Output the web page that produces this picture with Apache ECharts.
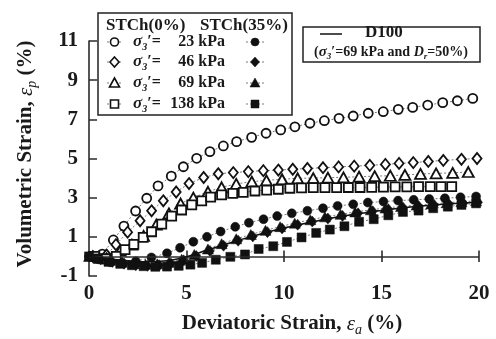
<!DOCTYPE html>
<html>
<head>
<meta charset="utf-8">
<script src="https://cdn.jsdelivr.net/npm/echarts@6/dist/echarts.min.js"></script>
<style>
  html, body { margin: 0; padding: 0; background: #fff; }
  #chart { width: 496px; height: 339px; }
</style>
</head>
<body>
<div id="chart"></div>
<script>
// Each pair is [deviatoric strain εa (%), volumetric strain εp (%)]

// STCh(0%) tests, open symbols
const stch0_23 = [[0.1,0.0],[0.68,0.12],[1.25,0.84],[1.79,1.55],[2.39,2.32],[2.96,2.97],[3.54,3.6],[4.22,4.1],[4.84,4.58],[5.52,5.01],[6.2,5.35],[6.89,5.64],[7.57,5.86],[8.34,6.08],[9.08,6.29],[9.83,6.46],[10.56,6.62],[11.33,6.8],[12.07,6.93],[12.82,7.05],[13.55,7.17],[14.32,7.31],[15.09,7.39],[15.86,7.51],[16.6,7.61],[17.37,7.73],[18.14,7.85],[18.89,7.95],[19.68,8.07]];
const stch0_46 = [[0.2,0.0],[0.9,0.07],[1.38,0.6],[1.98,1.24],[2.62,1.82],[3.21,2.33],[3.81,2.84],[4.47,3.29],[5.13,3.72],[5.88,4.03],[6.63,4.22],[7.4,4.28],[8.17,4.33],[8.94,4.38],[9.71,4.41],[10.45,4.45],[11.2,4.49],[12.0,4.53],[12.8,4.57],[13.6,4.61],[14.4,4.65],[15.2,4.7],[15.9,4.75],[16.63,4.79],[17.4,4.85],[18.17,4.9],[19.1,4.96],[19.9,5.0]];
const stch0_69 = [[0.9,-0.1],[1.6,0.3],[2.2,0.6],[2.8,1.05],[3.45,1.62],[4.1,2.2],[4.7,2.7],[5.35,3.0],[6.1,3.3],[6.8,3.53],[7.55,3.7],[8.35,3.82],[9.1,3.88],[9.9,3.94],[10.7,3.99],[11.5,4.0],[12.25,4.02],[13.05,4.04],[13.85,4.07],[14.65,4.1],[15.45,4.12],[16.2,4.16],[17.0,4.21],[17.8,4.24],[18.65,4.27],[19.45,4.31]];
const stch0_138 = [[0.3,0.0],[0.85,-0.12],[1.4,0.0],[1.85,0.35],[2.3,0.62],[2.78,0.97],[3.21,1.26],[3.73,1.65],[4.24,2.06],[4.75,2.37],[5.27,2.63],[5.78,2.84],[6.24,3.03],[6.8,3.14],[7.37,3.22],[7.91,3.27],[8.51,3.34],[9.11,3.39],[9.71,3.43],[10.3,3.48],[10.9,3.5],[11.5,3.51],[12.1,3.51],[12.7,3.51],[13.3,3.52],[13.9,3.52],[14.5,3.53],[15.1,3.54],[15.7,3.55],[16.3,3.55],[16.9,3.56],[17.5,3.56],[18.05,3.56],[18.6,3.56]];

// STCh(35%) tests, filled symbols
const stch35_23 = [[0.0,0.0],[0.5,-0.15],[1.1,-0.3],[1.7,-0.33],[2.4,-0.25],[3.2,-0.05],[4.0,0.16],[4.67,0.44],[5.35,0.75],[6.05,1.0],[6.75,1.27],[7.5,1.51],[8.2,1.72],[8.95,1.9],[9.65,2.06],[10.4,2.2],[11.2,2.33],[12.0,2.46],[12.75,2.58],[13.55,2.66],[14.3,2.75],[15.1,2.8],[15.85,2.85],[16.65,2.89],[17.45,2.93],[18.25,2.97],[19.05,3.02],[19.85,3.06]];
const stch35_46 = [[0.0,0.0],[0.6,-0.15],[1.2,-0.28],[1.8,-0.38],[2.4,-0.45],[3.0,-0.48],[3.6,-0.45],[4.2,-0.36],[4.85,-0.2],[5.5,0.02],[6.2,0.28],[6.9,0.55],[7.65,0.8],[8.4,1.02],[9.15,1.24],[9.9,1.43],[10.7,1.62],[11.45,1.78],[12.25,1.93],[13.0,2.07],[13.8,2.2],[14.55,2.31],[15.35,2.41],[16.1,2.5],[16.9,2.57],[17.7,2.63],[18.45,2.68],[19.2,2.72],[19.95,2.76]];
const stch35_69 = [[0.0,0.0],[0.5,-0.1],[1.1,-0.2],[1.7,-0.3],[2.3,-0.37],[2.9,-0.4],[3.5,-0.38],[4.1,-0.3],[4.75,-0.15],[5.4,0.1],[6.1,0.38],[6.8,0.65],[7.55,0.9],[8.3,1.12],[9.05,1.33],[9.8,1.52],[10.55,1.7],[11.35,1.87],[12.1,2.02],[12.9,2.15],[13.65,2.27],[14.45,2.38],[15.2,2.47],[16.0,2.55],[16.8,2.62],[17.55,2.68],[18.35,2.74],[19.1,2.79],[19.85,2.84]];
const stch35_138 = [[0.0,0.0],[0.45,-0.1],[1.0,-0.28],[1.6,-0.38],[2.2,-0.45],[2.8,-0.5],[3.4,-0.53],[4.0,-0.52],[4.6,-0.48],[5.2,-0.42],[5.8,-0.33],[6.5,-0.17],[7.25,-0.02],[8.0,0.1],[8.7,0.38],[9.45,0.52],[10.15,0.74],[10.9,0.97],[11.65,1.2],[12.35,1.37],[13.1,1.54],[13.85,1.77],[14.6,1.9],[15.35,2.1],[16.1,2.27],[16.9,2.34],[17.65,2.46],[18.4,2.54],[19.1,2.63],[19.85,2.71]];

// D100 reference curve
const d100 = [[0,0],[1,-0.12],[2,-0.22],[3,-0.27],[4,-0.22],[5,-0.02],[6,0.3],[7,0.62],[8,0.92],[9,1.2],[10,1.45],[11,1.67],[12,1.87],[13,2.05],[14,2.2],[15,2.35],[16,2.47],[17,2.57],[18,2.65],[19,2.72],[20,2.78]];

// Axis tick values and legend texts
const xTicks = { min: 0, max: 20, step: 5 };
const xTickValues = [5, 10, 15, 20];
const xTickSpan = [-0.28, 0.3];   // tick mark extent across εp = 0, in εp units
const yTicks = { min: -1, max: 11, step: 2 };
const pressures = ['23', '46', '69', '138'];
const groupLabels = ['STCh(0%)', 'STCh(35%)'];

const SERIF = 'Liberation Serif';
const INK = '#1a1a1a';
const AXIS = '#2b2b2b';
const chart = echarts.init(document.getElementById('chart'), null, { renderer: 'canvas' });

const SYM = {
  circle: { symbol: 'circle', size: 9 },
  diamond: { symbol: 'diamond', size: [9, 11] },
  triangle: { symbol: 'triangle', size: [11, 10] },
  square: { symbol: 'rect', size: 9 }
};

function markerSeries(name, data, kind, filled) {
  return {
    name: name,
    type: 'line',
    data: data,
    symbol: SYM[kind].symbol,
    symbolSize: SYM[kind].size,
    showSymbol: true,
    showAllSymbol: true,
    lineStyle: { color: '#7a7a7a', width: 1, type: [2, 2] },
    itemStyle: filled
      ? { color: '#111', borderColor: '#111', borderWidth: 0.5 }
      : { color: '#fff', borderColor: '#111', borderWidth: 1.8 },
    emphasis: { disabled: true },
    z: filled ? 4 : 3,
    animation: false
  };
}

// Horizontal axis through εp = 0, with tick marks crossing it
const zeroAxisMarks = {
  silent: true,
  symbol: 'none',
  animation: false,
  label: { show: false },
  lineStyle: { color: AXIS, width: 1.6, type: 'solid' },
  emphasis: { disabled: true },
  data: [{ yAxis: 0 }].concat(xTickValues.map(function (v) {
    return [{ coord: [v, xTickSpan[0]] }, { coord: [v, xTickSpan[1]] }];
  }))
};

// Legend drawn as graphic elements
function legendSymbol(kind, cx, cy, filled) {
  const style = filled
    ? { fill: '#111', stroke: '#111', lineWidth: 0.5 }
    : { fill: '#fff', stroke: '#111', lineWidth: 1.6 };
  if (kind === 'circle') return { type: 'circle', shape: { cx: cx, cy: cy, r: 4 }, style: style, z: 102 };
  if (kind === 'square') return { type: 'rect', shape: { x: cx - 4, y: cy - 4, width: 8, height: 8 }, style: style, z: 102 };
  if (kind === 'diamond') return { type: 'polygon', shape: { points: [[cx, cy - 5], [cx + 4.5, cy], [cx, cy + 5], [cx - 4.5, cy]] }, style: style, z: 102 };
  return { type: 'polygon', shape: { points: [[cx, cy - 5], [cx + 5, cy + 4], [cx - 5, cy + 4]] }, style: style, z: 102 };
}
function dash(x1, x2, y) {
  return { type: 'line', shape: { x1: x1, y1: y, x2: x2, y2: y }, style: { stroke: '#7a7a7a', lineWidth: 1, lineDash: [2, 2] }, z: 101 };
}
function txt(x, y, text, rich, align, extra) {
  return Object.assign({
    type: 'text', x: x, y: y, z: 103,
    style: { text: text, rich: rich, fill: INK, align: align || 'left', verticalAlign: 'middle',
             textAlign: align || 'left', textVerticalAlign: 'middle' }
  }, extra || {});
}

const richLegend = {
  b: { fontFamily: SERIF, fontWeight: 'bold', fontSize: 16, lineHeight: 20, color: INK },
  h: { fontFamily: SERIF, fontWeight: 'bold', fontSize: 17, lineHeight: 20, color: INK },
  g: { fontFamily: SERIF, fontWeight: 'bold', fontStyle: 'italic', fontSize: 17, lineHeight: 20, color: INK },
  s: { fontFamily: SERIF, fontWeight: 'bold', fontStyle: 'italic', fontSize: 10, lineHeight: 12, verticalAlign: 'bottom', color: INK }
};
const richNote = {
  b: { fontFamily: SERIF, fontWeight: 'bold', fontSize: 14, lineHeight: 18, color: INK },
  g: { fontFamily: SERIF, fontWeight: 'bold', fontStyle: 'italic', fontSize: 15, lineHeight: 18, color: INK },
  i: { fontFamily: SERIF, fontWeight: 'bold', fontStyle: 'italic', fontSize: 14, lineHeight: 18, color: INK },
  s: { fontFamily: SERIF, fontWeight: 'bold', fontStyle: 'italic', fontSize: 9, lineHeight: 11, verticalAlign: 'bottom', color: INK }
};
const richTitle = {
  b: { fontFamily: SERIF, fontWeight: 'bold', fontSize: 21, lineHeight: 26, color: INK },
  e: { fontFamily: SERIF, fontStyle: 'italic', fontSize: 21, lineHeight: 26, color: INK },
  s: { fontFamily: SERIF, fontStyle: 'italic', fontSize: 14, lineHeight: 15, verticalAlign: 'bottom', color: INK }
};

const kinds = ['circle', 'diamond', 'triangle', 'square'];
const rowY = [42, 62, 83, 104];
const graphics = [
  { type: 'rect', shape: { x: 98, y: 13, width: 194, height: 102 }, style: { fill: '#fff', stroke: '#222', lineWidth: 1.5 }, z: 100 },
  txt(106, 26, '{h|' + groupLabels[0] + '}', richLegend),
  txt(200, 26, '{h|' + groupLabels[1] + '}', richLegend),
  { type: 'rect', shape: { x: 303, y: 27, width: 177, height: 35 }, style: { fill: '#fff', stroke: '#222', lineWidth: 1.5 }, z: 100 },
  { type: 'line', shape: { x1: 320, y1: 34, x2: 342, y2: 34 }, style: { stroke: '#111', lineWidth: 1.5 }, z: 101 },
  txt(365, 33, '{b|D100}', { b: { fontFamily: SERIF, fontWeight: 'bold', fontSize: 17, color: INK } }),
  txt(391, 52, '{b|(}{g|σ}{s|3}{b|′=69 kPa and }{i|D}{s|r}{b|=50%)}', richNote, 'center'),
  // axis titles
  txt(26, 154, '{b|Volumetric Strain, }{e|ε}{s|p}{b| (%)}', richTitle, 'center', { rotation: Math.PI / 2 }),
  txt(292, 324, '{b|Deviatoric Strain, }{e|ε}{s|a}{b| (%)}', richTitle, 'center')
];
kinds.forEach(function (k, i) {
  const y = rowY[i];
  graphics.push(dash(107, 122, y), legendSymbol(k, 114.5, y, false));
  graphics.push(dash(246, 264, y), legendSymbol(k, 255, y, true));
  graphics.push(txt(133, y, '{g|σ}{s|3}{b|′=}', richLegend));
  graphics.push(txt(225, y, '{b|' + pressures[i] + ' kPa}', richLegend, 'right'));
});

const axisFont = { fontFamily: SERIF, fontWeight: 'bold', fontSize: 21, color: INK };

const option = {
  animation: false,
  backgroundColor: '#fff',
  grid: { left: 89, right: 17, top: 41, bottom: 63, containLabel: false },
  xAxis: {
    type: 'value', min: xTicks.min, max: xTicks.max, interval: xTicks.step,
    position: 'bottom',
    axisLine: { show: false, onZero: false },
    axisTick: { show: false },
    axisLabel: Object.assign({ margin: 7 }, axisFont),
    splitLine: { show: false }
  },
  yAxis: {
    type: 'value', min: yTicks.min, max: yTicks.max, interval: yTicks.step,
    axisLine: { show: true, onZero: false, lineStyle: { color: AXIS, width: 1.6 } },
    axisTick: { show: true, inside: true, length: 8, lineStyle: { color: AXIS, width: 1.5 } },
    axisLabel: Object.assign({ margin: 11 }, axisFont),
    splitLine: { show: false }
  },
  series: [
    markerSeries('STCh(0%) 23 kPa', stch0_23, 'circle', false),
    markerSeries('STCh(0%) 46 kPa', stch0_46, 'diamond', false),
    markerSeries('STCh(0%) 69 kPa', stch0_69, 'triangle', false),
    markerSeries('STCh(0%) 138 kPa', stch0_138, 'square', false),
    markerSeries('STCh(35%) 23 kPa', stch35_23, 'circle', true),
    markerSeries('STCh(35%) 46 kPa', stch35_46, 'diamond', true),
    markerSeries('STCh(35%) 69 kPa', stch35_69, 'triangle', true),
    markerSeries('STCh(35%) 138 kPa', stch35_138, 'square', true),
    {
      name: 'D100', type: 'line', data: d100, smooth: true, symbol: 'none',
      lineStyle: { color: '#111', width: 1.5 }, z: 5, emphasis: { disabled: true },
      markLine: zeroAxisMarks
    }
  ],
  graphic: graphics
};
chart.setOption(option);
</script>
</body>
</html>
